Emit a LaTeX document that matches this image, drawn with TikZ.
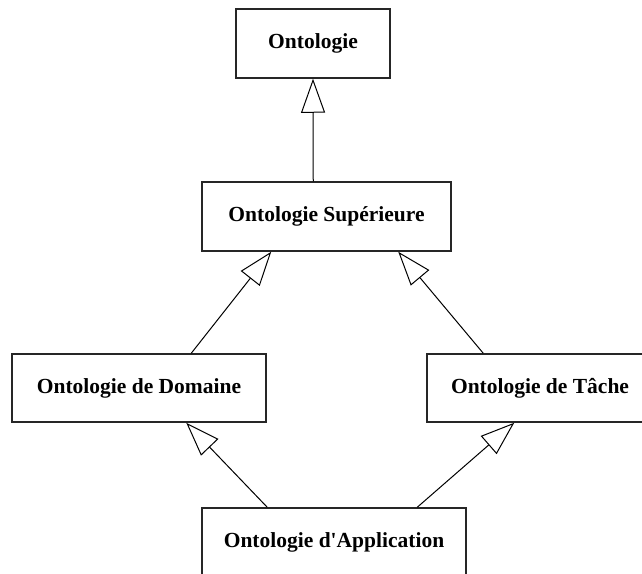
\documentclass[tikz,border=0pt]{standalone}
\usepackage{fontspec}
\setmainfont{Liberation Serif}[Ligatures=TeXOff]
\usetikzlibrary{arrows.meta}
\begin{document}
\begin{tikzpicture}[x=1pt,y=-1pt,
  box/.style={draw=black!85, line width=1.5pt, rectangle, inner sep=0pt,
    font=\fontsize{21.5}{26}\selectfont\bfseries},
  gen/.style={draw=black, line width=1pt,
    -{Triangle[open, length=34pt, width=24pt, line width=1pt]}}]
\useasboundingbox (0,0) rectangle (642,573);
\node[box, minimum width=154pt, minimum height=69pt] (onto) at (313,43.5) {Ontologie};
\node[box, minimum width=249pt, minimum height=69pt] (sup) at (326.5,216.5) {Ontologie Supérieure};
\node[box, minimum width=254pt, minimum height=68pt] (dom) at (139,388) {Ontologie de Domaine};
\node[box, minimum width=226pt, minimum height=68pt] (tache) at (540,388) {Ontologie de Tâche};
\node[box, minimum width=264pt, minimum height=69pt] (app) at (334,542.5) {Ontologie d'Application};
\draw[gen] ([xshift=112pt]sup.north west) -- (onto.south);
\draw[gen] ([xshift=180pt]dom.north west) -- ([xshift=70pt]sup.south west);
\draw[gen] ([xshift=57pt]tache.north west) -- ([xshift=197pt]sup.south west);
\draw[gen] ([xshift=66pt]app.north west) -- ([xshift=175pt]dom.south west);
\draw[gen] ([xshift=216pt]app.north west) -- ([xshift=88pt]tache.south west);
\end{tikzpicture}
\end{document}
